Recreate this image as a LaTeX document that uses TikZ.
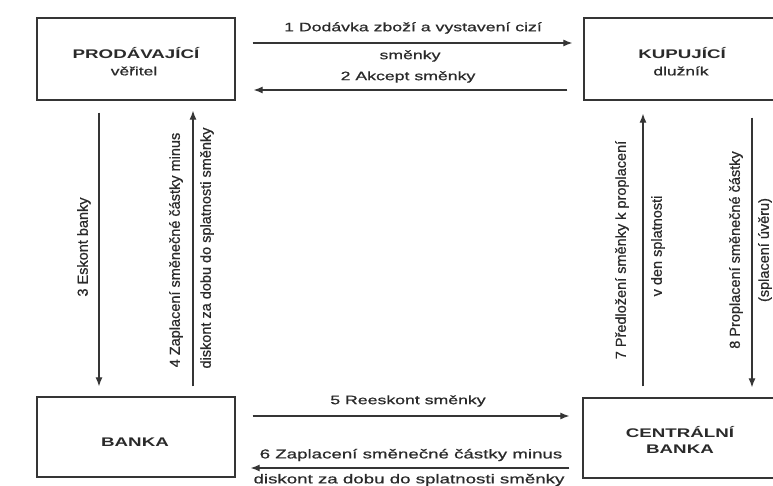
\documentclass[tikz,border=0pt]{standalone}
\usepackage{fontspec}
\setmainfont{Liberation Sans}
\newfontfamily\widefont[FakeStretch=1.45,FakeBold=0.7]{Liberation Sans}
\newfontfamily\titlefont[FakeStretch=1.5]{Liberation Sans}
\newfontfamily\subfont[FakeStretch=1.45,FakeBold=0.9]{Liberation Sans}
\newfontfamily\vertfont[FakeBold=0.7]{Liberation Sans}
\usetikzlibrary{arrows.meta}
\definecolor{inkgray}{HTML}{2A2A2A}
\definecolor{linegray}{HTML}{353535}

\begin{document}
\begin{tikzpicture}[x=1pt,y=-1pt,
  party/.style={draw=linegray, line width=1.4pt, inner sep=0pt, text=inkgray},
  flow/.style={draw=linegray, line width=1.1pt, -{Latex[length=9pt,width=7pt]}},
  title/.style={text=inkgray, inner sep=0pt, font=\titlefont\bfseries\fontsize{12.5}{14}\selectfont},
  subtitle/.style={text=inkgray, inner sep=0pt, font=\subfont\fontsize{12}{14}\selectfont},
  hlabel/.style={text=inkgray, inner sep=0pt, font=\widefont\fontsize{12.2}{14}\selectfont},
  blabel/.style={text=inkgray, inner sep=0pt, font=\widefont\fontsize{12.9}{14}\selectfont},
  vlabel/.style={text=inkgray, inner sep=0pt, rotate=90, font=\vertfont\fontsize{14.5}{16}\selectfont}
]
\useasboundingbox (0,0) rectangle (773,486);
\fill[white] (0,0) rectangle (773,486);
\clip (0,0) rectangle (773,486);

% the four parties
\node[party, minimum width=198pt, minimum height=82pt] (prod) at (136,59) {};
\node[party, minimum width=196pt, minimum height=82pt] (kup) at (682,59) {};
\node[party, minimum width=198pt, minimum height=80pt] (banka) at (136,437) {};
\node[party, minimum width=194pt, minimum height=80pt] (cb) at (680,438) {};

\node[title] (prodT) at (136,53) {PRODÁVAJÍCÍ};
\node[subtitle] (prodS) at (134,71) {věřitel};
\node[title] (kupT) at (682,53) {KUPUJÍCÍ};
\node[subtitle] (kupS) at (681,71) {dlužník};
\node[title] (bankaT) at (135,442) {BANKA};
\node[title] (cbT1) at (680,432) {CENTRÁLNÍ};
\node[title] (cbT2) at (680,449) {BANKA};

% seller <-> buyer
\draw[flow, shorten <=17pt, shorten >=11pt] (prod.east |- 0,43) -- (kup.west |- 0,43);
\draw[flow, shorten <=16pt, shorten >=18pt] (kup.west |- 0,90) -- (prod.east |- 0,90);
\node[hlabel] (l1a) at (413,28) {1 Dodávka zboží a vystavení cizí};
\node[hlabel] (l1b) at (410,56) {směnky};
\node[hlabel] (l2) at (408,77) {2 Akcept směnky};

% seller <-> bank
\draw[flow, shorten <=12pt, shorten >=10pt] (prod.south -| 99,0) -- (banka.north -| 99,0);
\draw[flow, shorten <=10pt, shorten >=10pt] (banka.north -| 193,0) -- (prod.south -| 193,0);
\node[vlabel] (l3) at (84,247) {3 Eskont banky};
\node[vlabel] (l4a) at (176,250) {4 Zaplacení směnečné částky minus};
\node[vlabel] (l4b) at (207,248) {diskont za dobu do splatnosti směnky};

% bank <-> central bank
\draw[flow, shorten <=17pt, shorten >=13pt] (banka.east |- 0,416) -- (cb.west |- 0,416);
\draw[flow, shorten <=13pt, shorten >=15pt] (cb.west |- 0,468) -- (banka.east |- 0,468);
\node[hlabel] (l5) at (408,401) {5 Reeskont směnky};
\node[blabel] (l6a) at (411,455) {6 Zaplacení směnečné částky minus};
\node[blabel] (l6b) at (409,480) {diskont za dobu do splatnosti směnky};

% central bank <-> buyer
\draw[flow, shorten <=11pt, shorten >=13pt] (cb.north -| 643,0) -- (kup.south -| 643,0);
\draw[flow, shorten <=17pt, shorten >=10pt] (kup.south -| 752,0) -- (cb.north -| 752,0);
\node[vlabel] (l7a) at (622,250) {7 Předložení směnky k proplacení};
\node[vlabel] (l7b) at (658,246) {v den splatnosti};
\node[vlabel] (l8a) at (736,250) {8 Proplacení směnečné částky};
\node[vlabel] (l8b) at (765,250) {(splacení úvěru)};
\end{tikzpicture}
\end{document}
